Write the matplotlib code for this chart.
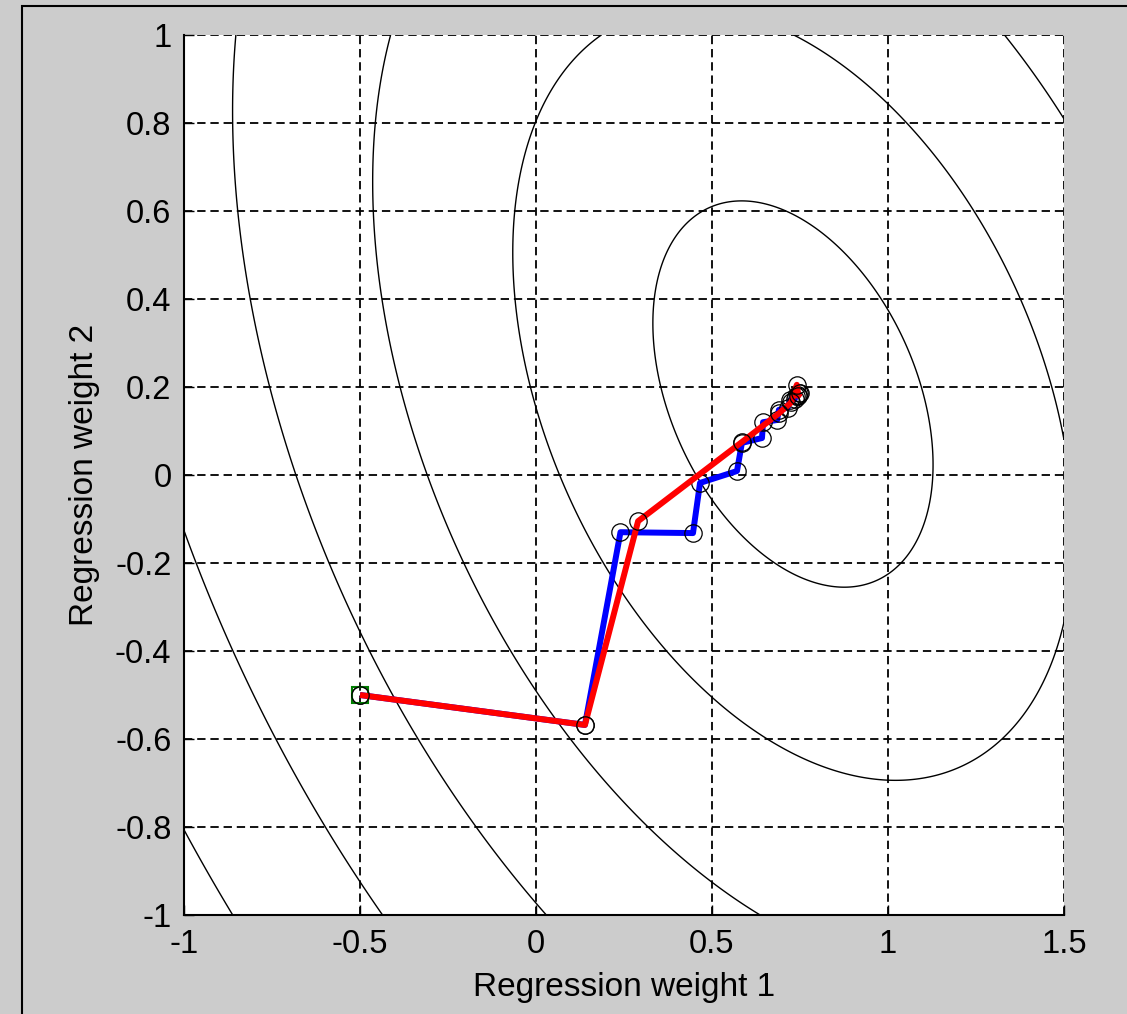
import numpy as np
import matplotlib
matplotlib.use("Agg")
import matplotlib.pyplot as plt
from matplotlib.patches import Rectangle

plt.rcParams['font.family'] = ['Liberation Sans', 'DejaVu Sans']
plt.rcParams['lines.scale_dashes'] = False

# ---- data ----
# error-surface (quadratic) contour parameters
center = [0.73, 0.184]
cov = [[0.1584, -0.064], [-0.064, 0.1927]]
levels = [1, 2, 3, 4, 5, 6]

# coordinate-descent path (blue)
blue_x = [-0.5, 0.139, 0.240, 0.446, 0.466, 0.571, 0.585, 0.642, 0.645, 0.685, 0.690, 0.715, 0.722, 0.735, 0.738, 0.745, 0.747]
blue_y = [-0.5, -0.568, -0.130, -0.132, -0.018, 0.009, 0.073, 0.084, 0.120, 0.125, 0.148, 0.153, 0.170, 0.172, 0.180, 0.182, 0.186]

# gradient-descent path (red)
red_x = [-0.5, 0.139, 0.290, 0.585, 0.690, 0.725, 0.741, 0.745, 0.750]
red_y = [-0.5, -0.568, -0.105, 0.075, 0.140, 0.165, 0.205, 0.180, 0.186]

start = [-0.5, -0.5]

xticks = [-1, -0.5, 0, 0.5, 1, 1.5]
xticklabels = ['-1', '-0.5', '0', '0.5', '1', '1.5']
yticks = [-1, -0.8, -0.6, -0.4, -0.2, 0, 0.2, 0.4, 0.6, 0.8, 1]
yticklabels = ['-1', '-0.8', '-0.6', '-0.4', '-0.2', '0', '0.2', '0.4', '0.6', '0.8', '1']

# ---- figure ----
W, H = 1127, 1014
fig = plt.figure(figsize=(W / 100, H / 100), dpi=100, facecolor='#cccccc')
ax = fig.add_axes([184 / W, 1 - 915 / H, (1064 - 184) / W, (915 - 35) / H])
ax.set_facecolor('white')

# contours
gx = np.linspace(-1, 1.5, 500)
gy = np.linspace(-1, 1, 500)
X, Y = np.meshgrid(gx, gy)
A = np.linalg.inv(np.array(cov))
dx = X - center[0]
dy = Y - center[1]
Z = np.sqrt(A[0, 0] * dx * dx + 2 * A[0, 1] * dx * dy + A[1, 1] * dy * dy)
ax.contour(X, Y, Z, levels=levels, colors='black', linewidths=1.0, zorder=2)

# paths
ax.plot(blue_x, blue_y, '-', color='#0000ff', lw=4.3, zorder=4, solid_capstyle='butt')
ax.plot(blue_x, blue_y, 'o', mfc='none', mec='black', ms=12.5, mew=0.9, zorder=5)
ax.plot(start[0], start[1], 's', mfc='none', mec='#007f00', ms=11, mew=1.5, zorder=5)
ax.plot(red_x, red_y, '-', color='#ff0000', lw=4.3, zorder=6, solid_capstyle='butt')
ax.plot(red_x, red_y, 'o', mfc='none', mec='black', ms=12.5, mew=0.9, zorder=7)

ax.set_xlim(-1, 1.5)
ax.set_ylim(-1, 1)
ax.set_xticks(xticks)
ax.set_xticklabels(xticklabels)
ax.set_yticks(yticks)
ax.set_yticklabels(yticklabels)
ax.tick_params(direction='in', length=7, width=1.0, labelsize=23.5, colors='black')
ax.tick_params(axis='x', pad=10)
ax.tick_params(axis='y', pad=9)
ax.grid(True, color='black', linestyle=(0, (6, 3.5)), linewidth=1.3)
ax.set_axisbelow(True)
for s in ['top', 'right']:
    ax.spines[s].set_visible(False)
for s in ['left', 'bottom']:
    ax.spines[s].set_linewidth(1.5)
    ax.spines[s].set_zorder(8)

ax.set_xlabel('Regression weight 1', fontsize=24, labelpad=9)
ax.set_ylabel('Regression weight 2', fontsize=24, labelpad=11)

# outer frame
fig.add_artist(Rectangle((22 / W, -0.05), 1.2, (1 - 6 / H) + 0.05, transform=fig.transFigure,
                         fill=False, edgecolor='black', linewidth=1.5))

fig.savefig('out.png', dpi=100, facecolor=fig.get_facecolor())
